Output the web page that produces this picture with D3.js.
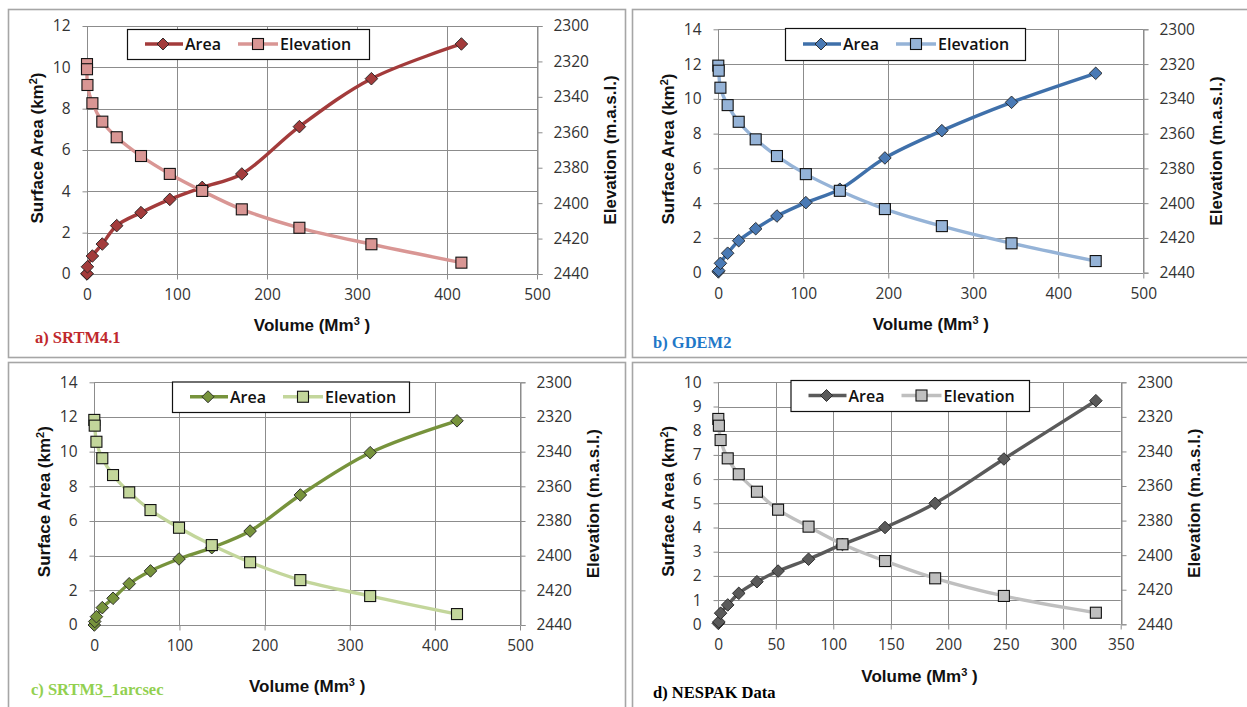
<!DOCTYPE html>
<html>
<head>
<meta charset="utf-8">
<script src="https://cdn.jsdelivr.net/npm/d3@7"></script>
<style>
  html, body { margin: 0; padding: 0; background: #fff; }
  svg { display: block; }
</style>
</head>
<body>
<svg id="chart" width="1247" height="707"></svg>
<script>
// ---------------- DATA ----------------
// a) SRTM4.1
const volA  = [0, 0, 0.5, 6, 17, 33, 60, 92, 128, 172, 236, 316, 416];
const areaA = [0, 0.02, 0.35, 0.87, 1.45, 2.34, 2.97, 3.61, 4.19, 4.84, 7.13, 9.45, 11.13];
const elevA = [2321.5, 2324.4, 2333.3, 2343.6, 2354, 2362.8, 2373.4, 2383.5, 2393.1, 2403.5, 2413.9, 2423.2, 2433.6];
// b) GDEM2
const volB  = [0, 0.5, 2.5, 11, 24, 44, 69, 103, 143, 196, 263, 345, 444];
const areaB = [0.05, 0.12, 0.54, 1.12, 1.84, 2.53, 3.26, 4.03, 4.8, 6.6, 8.17, 9.8, 11.47];
const elevB = [2320.9, 2323.8, 2333.6, 2343.6, 2353.2, 2363.3, 2372.9, 2383.3, 2392.9, 2403.4, 2413.2, 2423.1, 2433.3];
// c) SRTM3_1arcsec
const volC  = [0, 0.5, 2.5, 9.4, 22, 41, 66, 99.5, 138, 183, 242, 324, 426];
const areaC = [0, 0.2, 0.48, 1.0, 1.54, 2.38, 3.12, 3.81, 4.46, 5.42, 7.5, 9.94, 11.78];
const elevC = [2321.7, 2325, 2334.3, 2343.8, 2353.5, 2363.5, 2373.7, 2383.9, 2393.9, 2403.8, 2414.1, 2423.3, 2433.7];
// d) NESPAK Data
const volD  = [0, 0.5, 2, 8.2, 17.8, 33.6, 52, 78.5, 108, 145, 188.6, 248.4, 328.4];
const areaD = [0.04, 0.1, 0.46, 0.8, 1.28, 1.76, 2.2, 2.69, 3.3, 4.0, 5.0, 6.83, 9.24];
const elevD = [2321.2, 2325.1, 2333.4, 2344, 2353.2, 2363.3, 2373.7, 2383.5, 2393.7, 2403.4, 2413.4, 2423.6, 2433.3];

// tick labels
const xTicks500 = [0, 100, 200, 300, 400, 500];
const xTicks350 = [0, 50, 100, 150, 200, 250, 300, 350];
const yTicks12 = [0, 2, 4, 6, 8, 10, 12];
const yTicks14 = [0, 2, 4, 6, 8, 10, 12, 14];
const yTicks10 = [0, 1, 2, 3, 4, 5, 6, 7, 8, 9, 10];
const elevTicks = [2300, 2320, 2340, 2360, 2380, 2400, 2420, 2440];

const seriesNames = ["Area", "Elevation"];
const panelLabels = ["a) SRTM4.1", "b) GDEM2", "c) SRTM3_1arcsec", "d) NESPAK Data"];

// ---------------- LAYOUT / STYLE ----------------
const panels = [
  { vol: volA, area: areaA, elev: elevA, xTicks: xTicks500, yTicks: yTicks12, label: panelLabels[0],
    x0: 87, x1: 537, yT: 26, yB: 274, leg: [127, 29, 242, 30], xTitleDy: 51,
    frame: [8, 9, 625, 357], labelPos: [35, 343], labelColor: "#C0282D",
    areaColor: "#A33B3B", areaFill: "#A33B3B", elevColor: "#D99694", elevFill: "#D99694" },
  { vol: volB, area: areaB, elev: elevB, xTicks: xTicks500, yTicks: yTicks14, label: panelLabels[1],
    x0: 718.3, x1: 1143.3, yT: 29.3, yB: 272.7, leg: [785, 28, 240, 32], xTitleDy: 51,
    frame: [632, 9, 1260, 357], labelPos: [653, 348], labelColor: "#1F78C8",
    areaColor: "#3F70AA", areaFill: "#4A7AB5", elevColor: "#95B3D7", elevFill: "#95B3D7" },
  { vol: volC, area: areaC, elev: elevC, xTicks: xTicks500, yTicks: yTicks14, label: panelLabels[2],
    x0: 94.3, x1: 520, yT: 382.3, yB: 625, leg: [172, 381.5, 237, 30.5], xTitleDy: 61,
    frame: [8, 362, 625, 720], labelPos: [31, 695], labelColor: "#92D050",
    areaColor: "#77933C", areaFill: "#77933C", elevColor: "#C3D69B", elevFill: "#C3D69B" },
  { vol: volD, area: areaD, elev: elevD, xTicks: xTicks350, yTicks: yTicks10, label: panelLabels[3],
    x0: 718.3, x1: 1120.7, yT: 382.3, yB: 624.3, leg: [790.5, 380, 238.5, 31], xTitleDy: 52,
    frame: [632, 362, 1260, 720], labelPos: [653, 698], labelColor: "#000000",
    areaColor: "#5A5A5A", areaFill: "#5A5A5A", elevColor: "#BFBFBF", elevFill: "#BFBFBF" }
];

const svg = d3.select("#chart");
const tickFont = "'Open Sans', 'DejaVu Sans', sans-serif";
const titleFont = "'Liberation Sans', Arial, sans-serif";
const gridColor = "#8C8C8C";

function diamondPath(cx, cy, r) {
  return `M${cx},${cy - r}L${cx + r},${cy}L${cx},${cy + r}L${cx - r},${cy}Z`;
}

panels.forEach(p => {
  const g = svg.append("g");
  // frame
  const [fx0, fy0, fx1, fy1] = p.frame;
  g.append("rect").attr("x", fx0 + 0.5).attr("y", fy0 + 0.5)
    .attr("width", fx1 - fx0).attr("height", fy1 - fy0)
    .attr("fill", "none").attr("stroke", "#A6A6A6").attr("stroke-width", 1.6);

  const xMax = p.xTicks[p.xTicks.length - 1];
  const yMax = p.yTicks[p.yTicks.length - 1];
  const x = d3.scaleLinear().domain([0, xMax]).range([p.x0, p.x1]);
  const y = d3.scaleLinear().domain([0, yMax]).range([p.yB, p.yT]);
  const yE = d3.scaleLinear().domain([2300, 2440]).range([p.yT, p.yB]);

  // gridlines
  const grid = g.append("g");
  grid.selectAll("line.h").data(p.yTicks).join("line")
    .attr("x1", p.x0).attr("x2", p.x1)
    .attr("y1", d => Math.round(y(d)) + 0.5).attr("y2", d => Math.round(y(d)) + 0.5)
    .attr("stroke", gridColor).attr("stroke-width", 1);
  grid.selectAll("line.v").data(p.xTicks).join("line")
    .attr("y1", p.yT).attr("y2", p.yB)
    .attr("x1", d => Math.round(x(d)) + 0.5).attr("x2", d => Math.round(x(d)) + 0.5)
    .attr("stroke", gridColor).attr("stroke-width", 1);

  // axes
  const axL = d3.axisLeft(y).tickValues(p.yTicks).tickSize(5).tickPadding(12).tickFormat(d3.format("d"));
  const axB = d3.axisBottom(x).tickValues(p.xTicks).tickSize(5).tickPadding(9).tickFormat(d3.format("d"));
  const axR = d3.axisRight(yE).tickValues(elevTicks).tickSize(5).tickPadding(11).tickFormat(d3.format("d"));
  const styleAxis = sel => {
    sel.select(".domain").attr("stroke", gridColor);
    sel.selectAll(".tick line").attr("stroke", gridColor);
    sel.selectAll(".tick text").attr("fill", "#333")
      .style("font-family", tickFont).style("font-size", "15.5px");
  };
  g.append("g").attr("transform", `translate(${Math.round(p.x0) + 0.5},0)`).call(axL).call(styleAxis)
    .select(".domain").remove();
  g.append("g").attr("transform", `translate(0,${Math.round(p.yB) + 0.5})`).call(axB).call(styleAxis)
    .select(".domain").remove();
  g.append("g").attr("transform", `translate(${Math.round(p.x1) + 0.5},0)`).call(axR).call(styleAxis);

  // axis titles
  const tl = g.append("text")
    .attr("transform", `translate(${p.x0 - 44},${(p.yT + p.yB) / 2 - 2}) rotate(-90)`)
    .attr("text-anchor", "middle").style("font-family", titleFont)
    .style("font-size", "17px").style("font-weight", "bold").attr("fill", "#111");
  tl.append("tspan").text("Surface Area (km");
  tl.append("tspan").text("2").attr("dy", -6).style("font-size", "11px");
  tl.append("tspan").text(")").attr("dy", 6);

  g.append("text")
    .attr("transform", `translate(${p.x1 + 79},${(p.yT + p.yB) / 2}) rotate(-90)`)
    .attr("text-anchor", "middle").style("font-family", titleFont)
    .style("font-size", "17px").style("font-weight", "bold").attr("fill", "#111")
    .text("Elevation (m.a.s.l.)");

  const tb = g.append("text")
    .attr("x", (p.x0 + p.x1) / 2).attr("y", p.yB + p.xTitleDy + 6)
    .attr("text-anchor", "middle").style("font-family", titleFont)
    .style("font-size", "17px").style("font-weight", "bold").attr("fill", "#111");
  tb.append("tspan").text("Volume (Mm");
  tb.append("tspan").text("3").attr("dy", -6).style("font-size", "11px");
  tb.append("tspan").text(" )").attr("dy", 6);

  // series
  const pts = p.vol.map((v, i) => ({ v, a: p.area[i], e: p.elev[i] }));
  const lineArea = d3.line().x(d => x(d.v)).y(d => y(d.a)).curve(d3.curveCatmullRom.alpha(0.5));
  const lineElev = d3.line().x(d => x(d.v)).y(d => yE(d.e)).curve(d3.curveCatmullRom.alpha(0.5));

  g.append("path").datum(pts).attr("d", lineArea)
    .attr("fill", "none").attr("stroke", p.areaColor).attr("stroke-width", 3.4);
  g.append("path").datum(pts).attr("d", lineElev)
    .attr("fill", "none").attr("stroke", p.elevColor).attr("stroke-width", 3.4);

  g.append("g").selectAll("path").data(pts).join("path")
    .attr("d", d => diamondPath(x(d.v), y(d.a), 6.3))
    .attr("fill", p.areaFill).attr("stroke", "#222").attr("stroke-width", 0.9);
  g.append("g").selectAll("rect").data(pts).join("rect")
    .attr("x", d => x(d.v) - 5.5).attr("y", d => yE(d.e) - 5.5)
    .attr("width", 11).attr("height", 11)
    .attr("fill", p.elevFill).attr("stroke", "#111").attr("stroke-width", 1.1);

  // legend
  const [lx, ly, lw, lh] = p.leg;
  const lg = g.append("g");
  lg.append("rect").attr("x", lx + 0.5).attr("y", ly + 0.5).attr("width", lw).attr("height", lh)
    .attr("fill", "#fff").attr("stroke", "#111").attr("stroke-width", 1.2);
  const cy = ly + lh / 2;
  lg.append("line").attr("x1", lx + 18).attr("x2", lx + 56).attr("y1", cy).attr("y2", cy)
    .attr("stroke", p.areaColor).attr("stroke-width", 3.4);
  lg.append("path").attr("d", diamondPath(lx + 36, cy, 6))
    .attr("fill", p.areaFill).attr("stroke", "#222").attr("stroke-width", 0.9);
  lg.append("text").attr("x", lx + 58).attr("y", cy + 6).text(seriesNames[0])
    .style("font-family", tickFont).style("font-size", "16px").style("font-weight", "600").attr("fill", "#111");
  lg.append("line").attr("x1", lx + 111).attr("x2", lx + 151).attr("y1", cy).attr("y2", cy)
    .attr("stroke", p.elevColor).attr("stroke-width", 3.4);
  lg.append("rect").attr("x", lx + 125.5).attr("y", cy - 5.5).attr("width", 11).attr("height", 11)
    .attr("fill", p.elevFill).attr("stroke", "#111").attr("stroke-width", 1.1);
  lg.append("text").attr("x", lx + 153).attr("y", cy + 6).text(seriesNames[1])
    .style("font-family", tickFont).style("font-size", "16px").style("font-weight", "600").attr("fill", "#111");

  // panel label
  g.append("text").attr("x", p.labelPos[0]).attr("y", p.labelPos[1]).text(p.label)
    .style("font-family", "'Liberation Serif', 'Times New Roman', serif")
    .style("font-size", "16.5px").style("font-weight", "bold").attr("fill", p.labelColor);
});
</script>
</body>
</html>
